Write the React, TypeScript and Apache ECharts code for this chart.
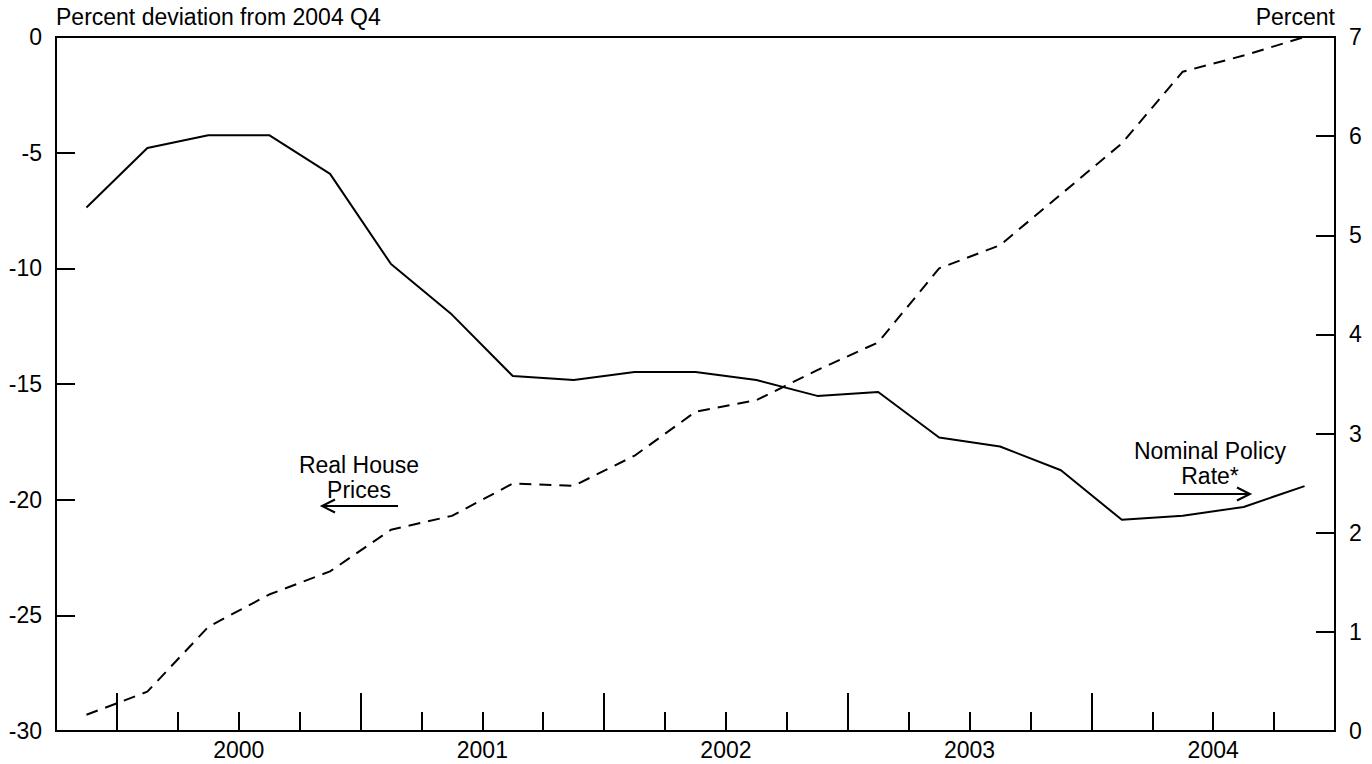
import React, { useEffect, useRef } from 'react';
import * as echarts from 'echarts';

const FONT = '"Liberation Sans", Arial, Helvetica, sans-serif';
const FS = 23;

const quarters = [
  '1999 Q4',
  '2000 Q1', '2000 Q2', '2000 Q3', '2000 Q4',
  '2001 Q1', '2001 Q2', '2001 Q3', '2001 Q4',
  '2002 Q1', '2002 Q2', '2002 Q3', '2002 Q4',
  '2003 Q1', '2003 Q2', '2003 Q3', '2003 Q4',
  '2004 Q1', '2004 Q2', '2004 Q3', '2004 Q4',
];

// Percent deviation from 2004 Q4 (left axis, dashed)
const realHousePrices = [
  -29.3, -28.3, -25.5, -24.1, -23.1, -21.3, -20.7, -19.3, -19.4, -18.1, -16.2,
  -15.7, -14.4, -13.2, -10.0, -9.0, -6.8, -4.6, -1.5, -0.8, 0.0,
];

// Percent (right axis, solid)
const policyRate = [
  5.28, 5.88, 6.01, 6.01, 5.62, 4.71, 4.20, 3.58, 3.54, 3.62, 3.62, 3.54, 3.38,
  3.42, 2.96, 2.87, 2.63, 2.13, 2.17, 2.26, 2.47,
];

const leftAxisName = 'Percent deviation from 2004 Q4';
const rightAxisName = 'Percent';
const houseLabelLines = ['Real House', 'Prices'];
const rateLabelLines = ['Nominal Policy', 'Rate*'];

export default function App() {
  const ref = useRef<HTMLDivElement>(null);

  useEffect(() => {
    if (!ref.current) return;
    const chart = echarts.init(ref.current, null, { renderer: 'svg' });

    // quarter boundaries: index i is the left edge of quarter i
    const yearStarts = quarters
      .map((q, i) => (q.endsWith('Q1') ? i : -1))
      .filter((i) => i >= 0);
    const yearMids = yearStarts.map((i) => i + 2);
    const black = '#000';
    const lineStyle = { color: black, width: 2 };

    const textEl = (text: string, x: number, y: number) => ({
      type: 'text',
      x,
      y,
      style: {
        text,
        textAlign: 'center',
        textVerticalAlign: 'top',
        fontSize: FS,
        fontFamily: FONT,
        lineHeight: FS,
        fill: black,
      },
    });

    const option: any = {
      animation: false,
      backgroundColor: '#fff',
      textStyle: { fontFamily: FONT, color: black },
      grid: {
        left: 56,
        right: 37,
        top: 37,
        bottom: 33,
        show: true,
        borderColor: black,
        borderWidth: 2,
        backgroundColor: 'transparent',
      },
      xAxis: [
        {
          type: 'value',
          position: 'bottom',
          min: 0,
          max: quarters.length,
          interval: 1,
          axisLine: { show: true, onZero: false, lineStyle },
          axisTick: { show: true, inside: true, length: 19, lineStyle },
          axisLabel: {
            customValues: yearMids,
            formatter: (v: number) => quarters[Math.round(v)].slice(0, 4),
            margin: 7,
            fontSize: FS,
            color: black,
            fontFamily: FONT,
          },
          splitLine: { show: false },
        },
        {
          type: 'value',
          position: 'bottom',
          min: 0,
          max: quarters.length,
          axisLine: { show: false, onZero: false },
          axisTick: {
            show: true,
            inside: true,
            length: 38,
            customValues: yearStarts,
            lineStyle,
          },
          axisLabel: { show: false },
          splitLine: { show: false },
        },
      ],
      yAxis: [
        {
          type: 'value',
          position: 'left',
          min: -30,
          max: 0,
          interval: 5,
          name: leftAxisName,
          nameLocation: 'end',
          nameGap: 20,
          nameTextStyle: {
            align: 'left',
            verticalAlign: 'middle',
            fontSize: FS,
            color: black,
            fontFamily: FONT,
          },
          axisLine: { show: true, onZero: false, lineStyle },
          axisTick: { show: true, inside: true, length: 19, lineStyle },
          axisLabel: { margin: 14, fontSize: FS, color: black, fontFamily: FONT },
          splitLine: { show: false },
        },
        {
          type: 'value',
          position: 'right',
          min: 0,
          max: 7,
          interval: 1,
          name: rightAxisName,
          nameLocation: 'end',
          nameGap: 20,
          nameTextStyle: {
            align: 'right',
            verticalAlign: 'middle',
            fontSize: FS,
            color: black,
            fontFamily: FONT,
          },
          axisLine: { show: true, onZero: false, lineStyle },
          axisTick: { show: true, inside: true, length: 19, lineStyle },
          axisLabel: { margin: 14, fontSize: FS, color: black, fontFamily: FONT },
          splitLine: { show: false },
        },
      ],
      series: [
        {
          name: 'Real House Prices',
          type: 'line',
          xAxisIndex: 0,
          yAxisIndex: 0,
          symbol: 'none',
          lineStyle: { color: black, width: 2, type: [12, 8] },
          data: realHousePrices.map((v, i) => [i + 0.5, v]),
        },
        {
          name: 'Nominal Policy Rate*',
          type: 'line',
          xAxisIndex: 0,
          yAxisIndex: 1,
          symbol: 'none',
          lineStyle: { color: black, width: 2 },
          data: policyRate.map((v, i) => [i + 0.5, v]),
        },
      ],
      graphic: [
        textEl(houseLabelLines[0], 359, 453),
        textEl(houseLabelLines[1], 359, 478),
        {
          type: 'line',
          shape: { x1: 322, y1: 506, x2: 398, y2: 506 },
          style: { stroke: black, lineWidth: 2 },
        },
        {
          type: 'polyline',
          shape: { points: [[335, 499.5], [322, 506], [335, 512.5]] },
          style: { stroke: black, lineWidth: 2, fill: null },
        },
        textEl(rateLabelLines[0], 1210, 439),
        textEl(rateLabelLines[1], 1210, 464),
        {
          type: 'line',
          shape: { x1: 1174, y1: 494, x2: 1250, y2: 494 },
          style: { stroke: black, lineWidth: 2 },
        },
        {
          type: 'polyline',
          shape: { points: [[1237, 487.5], [1250, 494], [1237, 500.5]] },
          style: { stroke: black, lineWidth: 2, fill: null },
        },
      ],
    };

    chart.setOption(option);
    return () => chart.dispose();
  }, []);

  return (
    <div
      ref={ref}
      style={{ position: 'fixed', left: 0, top: 0, width: 1372, height: 764 }}
    />
  );
}
